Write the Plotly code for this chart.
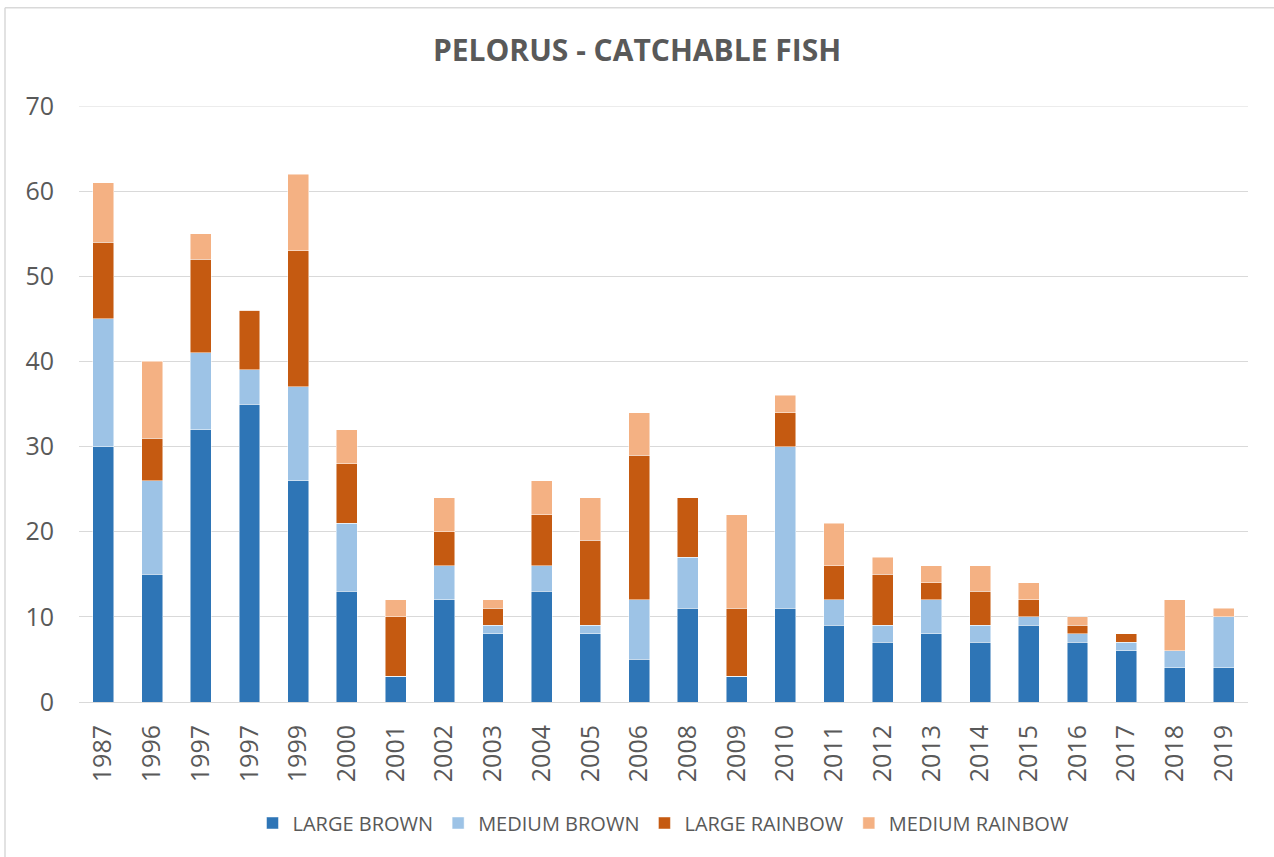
import plotly.graph_objects as go

# Survey years (two separate 1997 counts are reported)
years = ["1987", "1996", "1997", "1997", "1999", "2000", "2001", "2002", "2003",
         "2004", "2005", "2006", "2008", "2009", "2010", "2011", "2012", "2013",
         "2014", "2015", "2016", "2017", "2018", "2019"]

large_brown = [30, 15, 32, 35, 26, 13, 3, 12, 8, 13, 8, 5, 11, 3, 11, 9, 7, 8, 7, 9, 7, 6, 4, 4]
medium_brown = [15, 11, 9, 4, 11, 8, 0, 4, 1, 3, 1, 7, 6, 0, 19, 3, 2, 4, 2, 1, 1, 1, 2, 6]
large_rainbow = [9, 5, 11, 7, 16, 7, 7, 4, 2, 6, 10, 17, 7, 8, 4, 4, 6, 2, 4, 2, 1, 1, 0, 0]
medium_rainbow = [7, 9, 3, 0, 9, 4, 2, 4, 1, 4, 5, 5, 0, 11, 2, 5, 2, 2, 3, 2, 1, 0, 6, 1]

y_ticks = [0, 10, 20, 30, 40, 50, 60, 70]

series = [
    ("LARGE BROWN", large_brown, "#2E75B6"),
    ("MEDIUM BROWN", medium_brown, "#9DC3E6"),
    ("LARGE RAINBOW", large_rainbow, "#C55A11"),
    ("MEDIUM RAINBOW", medium_rainbow, "#F4B183"),
]

positions = list(range(len(years)))
text_color = "#595959"
font_family = "Open Sans"
grid_color = "#D9D9D9"

fig = go.Figure()
for name, vals, color in series:
    fig.add_trace(go.Bar(
        x=positions,
        y=vals,
        name=name,
        marker=dict(color=color, line=dict(color="rgba(255,255,255,0.6)", width=0.8)),
        width=0.43,
    ))

fig.update_layout(
    width=1274,
    height=857,
    barmode="stack",
    paper_bgcolor="white",
    plot_bgcolor="white",
    margin=dict(l=79, r=26, t=106, b=155),
    title=dict(
        text="<b>PELORUS - CATCHABLE FISH</b>",
        x=0.5,
        xanchor="center",
        y=1 - 50 / 857,
        yanchor="middle",
        font=dict(family=font_family, size=30, color=text_color),
    ),
    font=dict(family=font_family, color=text_color),
    legend=dict(
        orientation="h",
        x=0.5,
        xanchor="center",
        y=-0.203,
        yanchor="middle",
        font=dict(family=font_family, size=20, color=text_color),
        traceorder="normal",
        itemwidth=30,
    ),
    showlegend=True,
)

fig.update_xaxes(
    tickmode="array",
    tickvals=positions,
    ticktext=years,
    tickangle=-90,
    range=[-0.5, len(years) - 0.5],
    tickfont=dict(family=font_family, size=25, color=text_color),
    showgrid=False,
    showline=True,
    linecolor=grid_color,
    linewidth=1,
    ticks="",
    ticklabelstandoff=12,
)

fig.update_yaxes(
    range=[0, 70],
    tickmode="array",
    tickvals=y_ticks,
    tickfont=dict(family=font_family, size=25, color=text_color),
    showgrid=True,
    gridcolor=grid_color,
    gridwidth=1,
    zeroline=False,
    showline=False,
    ticks="",
    ticklabelstandoff=24,
)

# Top gridline at the axis maximum
fig.add_shape(type="line", xref="paper", yref="y", layer="below",
              x0=0, x1=1, y0=y_ticks[-1], y1=y_ticks[-1],
              line=dict(color=grid_color, width=1))

# Thin frame around the chart area
fig.add_shape(type="line", xref="paper", yref="paper",
              x0=(5 - 79) / 1169, x1=1.05, y0=(701 - 8) / 595, y1=(701 - 8) / 595,
              line=dict(color=grid_color, width=1.5))
fig.add_shape(type="line", xref="paper", yref="paper",
              x0=(5 - 79) / 1169, x1=(5 - 79) / 1169, y0=-0.3, y1=(701 - 8) / 595,
              line=dict(color=grid_color, width=1.5))

fig.write_html("out.html")
